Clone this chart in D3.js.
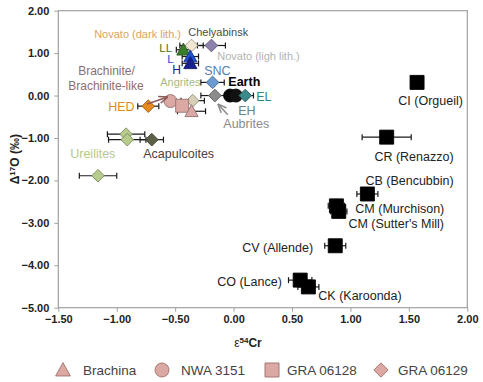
<!DOCTYPE html>
<html><head><meta charset="utf-8">
<script src="https://cdn.jsdelivr.net/npm/d3@7"></script>
<style>
body{margin:0;background:#fff}
svg{display:block}
text{font-family:"Liberation Sans",Arial,sans-serif}
</style>
</head><body>
<svg id="c" width="483" height="382"></svg>
<script>
// ---------- data ----------
const xTicks = [-1.5, -1.0, -0.5, 0.0, 0.5, 1.0, 1.5, 2.0];
const yTicks = [2, 1, 0, -1, -2, -3, -4, -5];

const pointNames = ["Ureilite a","Ureilite b","Ureilite c","Acapulcoites","HED",
  "Chelyabinsk","Novato","LL","L","H","SNC","Aubrites","Angrites",
  "NWA 3151","GRA 06128","Brachina","Earth","EH","EL",
  "CI (Orgueil)","CR (Renazzo)","CB (Bencubbin)","CM (Murchison)","CM (Sutter's Mill)",
  "CV (Allende)","CO (Lance)","CK (Karoonda)"];
const pointX = [-0.92,-0.91,-1.16,-0.70,-0.73,
  -0.19,-0.36,-0.43,-0.37,-0.37,-0.18,-0.16,-0.35,
  -0.54,-0.44,-0.36,-0.03,0.02,0.10,
  1.57,1.31,1.145,0.88,0.90,
  0.87,0.57,0.64];
const pointY = [-0.91,-1.04,-1.89,-1.04,-0.25,
  1.18,1.18,1.08,0.92,0.76,0.31,0.0,-0.12,
  -0.13,-0.24,-0.37,0.0,0.0,0.0,
  0.31,-0.98,-2.32,-2.60,-2.73,
  -3.54,-4.35,-4.51];
const pointXErr = [0.16,0.16,0.16,0.10,0.09,
  0.12,0.10,0.06,0.07,0.07,0.10,0.12,0.10,
  0,0,0.12,0,0,0.07,
  0.05,0.21,0.09,0.07,0.07,
  0.09,0.10,0.09];

const legendNames = ["Brachina","NWA 3151","GRA 06128","GRA 06129"];

// ---------- styles ----------
const pointStyle = {
  "Ureilite a":["diamond","#b7cb8d"],"Ureilite b":["diamond","#b7cb8d"],"Ureilite c":["diamond","#b7cb8d"],
  "Acapulcoites":["diamond","#5c6046"],"HED":["diamond","#e8891e"],
  "Chelyabinsk":["diamond","#8e80ad"],"Novato":["diamond","#f1e7d4"],
  "LL":["triangle","#3a7d2a"],"L":["triangle","#2050d0"],"H":["triangle","#1a2090"],
  "SNC":["diamond","#6b9bd0"],"Aubrites":["diamond","#8c8c8c"],"Angrites":["diamond","#d6d0b6"],
  "NWA 3151":["circle","#dba8a4"],"GRA 06128":["square","#dba8a4"],"Brachina":["triangle","#dba8a4"],
  "Earth":["circle","#0a0a0a"],"EH":["circle","#111111"],"EL":["diamond","#3a8a8c"],
  "CI (Orgueil)":["square","#000"],"CR (Renazzo)":["square","#000"],"CB (Bencubbin)":["square","#000"],
  "CM (Murchison)":["square","#000"],"CM (Sutter's Mill)":["square","#000"],"CV (Allende)":["square","#000"],
  "CO (Lance)":["square","#000"],"CK (Karoonda)":["square","#000"]
};
const legendShapes = ["triangle","circle","square","diamond"];

// annotations: [text, x, y (data units, left/middle anchor), color, size, weight]
const labels = [
  ["Novato (dark lith.)",-1.193,1.44,"#d9a45a",11,"normal"],
  ["Chelyabinsk",-0.388,1.488,"#4d4d3d",11,"normal"],
  ["Novato (ligh lith.)",-0.14,0.921,"#b3b3b3",11,"normal"],
  ["LL",-0.636,1.12,"#3a7d2a",11.5,"normal"],
  ["L",-0.568,0.87,"#2050d0",11.5,"normal"],
  ["H",-0.525,0.6,"#1a2090",12,"normal"],
  ["SNC",-0.251,0.59,"#4f7fb0",12.5,"normal"],
  ["Earth",-0.045,0.331,"#000",12.5,"bold"],
  ["EL",0.194,-0.024,"#3a8080",12.5,"normal"],
  ["EH",0.04,-0.354,"#6a8484",12.5,"normal"],
  ["Aubrites",-0.088,-0.661,"#8a8a8a",12.5,"normal"],
  ["Angrites",-0.628,0.307,"#a9bb7f",11,"normal"],
  ["Brachinite/",-1.33,0.59,"#8e6e6e",12,"normal"],
  ["Brachinite-like",-1.415,0.236,"#8e6e6e",12,"normal"],
  ["HED",-1.073,-0.26,"#e08a2a",12.5,"normal"],
  ["Ureilites",-1.398,-1.37,"#b5c98a",12.5,"normal"],
  ["Acapulcoites",-0.773,-1.37,"#444",12.5,"normal"],
  ["CI (Orgueil)",1.41,-0.118,"#222",12.5,"normal"],
  ["CR (Renazzo)",1.205,-1.44,"#222",12.5,"normal"],
  ["CB (Bencubbin)",1.128,-2.007,"#222",12.5,"normal"],
  ["CM (Murchison)",1.042,-2.668,"#222",12.5,"normal"],
  ["CM (Sutter's Mill)",0.983,-3.022,"#222",12.5,"normal"],
  ["CV (Allende)",0.074,-3.589,"#222",12.5,"normal"],
  ["CO (Lance)",-0.14,-4.392,"#222",12.5,"normal"],
  ["CK (Karoonda)",0.725,-4.722,"#222",12.5,"normal"]
];
// arrows: [x1,y1,x2,y2,color] in data units
const arrows = [
  [-0.74,-0.20,-0.57,-0.04,"#8e5a5a"],
  [-0.05,-0.45,-0.13,-0.21,"#8a8a8a"]
];

// ---------- chart ----------
const svg = d3.select("#c");
const L0 = 58.3, R0 = 467.3, T0 = 10.7, B0 = 307.7;
const x = d3.scaleLinear().domain([-1.5, 2]).range([L0, R0]);
const y = d3.scaleLinear().domain([-5, 2]).range([B0, T0]);

svg.append("defs").append("marker").attr("id","ah").attr("viewBox","0 0 10 10")
  .attr("refX",9).attr("refY",5).attr("markerWidth",6).attr("markerHeight",6)
  .attr("orient","auto-start-reverse").append("path").attr("d","M0,1 L10,5 L0,9").attr("fill","none")
  .attr("stroke","context-stroke").attr("stroke-width",1.6);

// axes
const xAxis = svg.append("g").attr("transform",`translate(0,${B0})`)
  .call(d3.axisBottom(x).tickValues(xTicks).tickSize(4).tickFormat(d3.format(".2f")));
const yAxis = svg.append("g").attr("transform",`translate(${L0},0)`)
  .call(d3.axisLeft(y).tickValues(yTicks).tickSize(4).tickFormat(d3.format(".2f")));
[xAxis,yAxis].forEach(g=>{
  g.select(".domain").remove();
  g.selectAll(".tick line").attr("stroke","#a0a0a0");
  g.selectAll(".tick text").attr("fill","#222").style("font-size","11px").style("font-weight","bold")
   .style("font-family","'Liberation Sans',Arial,sans-serif");
});
xAxis.selectAll(".tick text").attr("dy","0.55em").attr("y",9);
yAxis.selectAll(".tick text").attr("x",-9);

svg.append("rect").attr("x",L0).attr("y",T0).attr("width",R0-L0).attr("height",B0-T0)
  .attr("fill","none").attr("stroke","#a0a0a0").attr("stroke-width",1.2);

// axis titles
const xt = svg.append("text").attr("x",248).attr("y",347).attr("text-anchor","middle")
  .style("font-size","12px").style("font-weight","bold").attr("fill","#222");
xt.append("tspan").text("ε").style("font-weight","normal");
xt.append("tspan").text("54").attr("dy",-4).style("font-size","8px");
xt.append("tspan").text("Cr").attr("dy",4);
const yt = svg.append("text").attr("transform",`translate(19,${(T0+B0)/2}) rotate(-90)`)
  .attr("text-anchor","middle").style("font-size","12px").style("font-weight","bold").attr("fill","#222");
yt.append("tspan").text("Δ");
yt.append("tspan").text("17").attr("dy",-4).style("font-size","8px");
yt.append("tspan").text("O (‰)").attr("dy",4);

// shape paths
function shapePath(type, s){
  const h = s/2;
  if(type==="square") return `M${-h},${-h}H${h}V${h}H${-h}Z`;
  if(type==="diamond") return `M0,${-h*1.1}L${h*1.1},0L0,${h*1.1}L${-h*1.1},0Z`;
  if(type==="triangle") return `M0,${-h*1.05}L${h*1.05},${h*0.85}L${-h*1.05},${h*0.85}Z`;
  return d3.arc()({innerRadius:0,outerRadius:h,startAngle:0,endAngle:2*Math.PI});
}
function sizeOf(name, type){
  if(pointStyle[name][1]==="#000") return 14;
  if(type==="circle") return 13;
  if(type==="triangle") return 12.5;
  if(type==="square") return 13;
  return 11.5;
}
function strokeOf(col){
  if(col==="#000") return "#000";
  const c = d3.color(col).darker(1.1);
  return c.formatHex();
}

// error bars
const pts = pointNames.map((n,i)=>({n, x:pointX[i], y:pointY[i], e:pointXErr[i]}));
const eb = svg.append("g").attr("stroke","#1a1a1a").attr("stroke-width",1.2);
pts.filter(p=>p.e>0).forEach(p=>{
  const x1 = x(p.x-p.e), x2 = x(p.x+p.e), yy = y(p.y);
  eb.append("line").attr("x1",x1).attr("x2",x2).attr("y1",yy).attr("y2",yy);
  eb.append("line").attr("x1",x1).attr("x2",x1).attr("y1",yy-3).attr("y2",yy+3);
  eb.append("line").attr("x1",x2).attr("x2",x2).attr("y1",yy-3).attr("y2",yy+3);
});

// markers
svg.append("g").selectAll("path").data(pts).join("path")
  .attr("transform",d=>`translate(${x(d.x)},${y(d.y)})`)
  .attr("d",d=>shapePath(pointStyle[d.n][0], sizeOf(d.n, pointStyle[d.n][0])))
  .attr("fill",d=>pointStyle[d.n][1])
  .attr("stroke",d=>strokeOf(pointStyle[d.n][1]))
  .attr("stroke-width",0.9);

// labels
svg.append("g").selectAll("text").data(labels).join("text")
  .attr("x",d=>x(d[1])).attr("y",d=>y(d[2])).attr("dy","0.35em")
  .attr("fill",d=>d[3]).style("font-size",d=>d[4]+"px").style("font-weight",d=>d[5])
  .text(d=>d[0]);

// arrows
svg.append("g").selectAll("line").data(arrows).join("line")
  .attr("x1",d=>x(d[0])).attr("y1",d=>y(d[1])).attr("x2",d=>x(d[2])).attr("y2",d=>y(d[3]))
  .attr("stroke",d=>d[4]).attr("stroke-width",1.5).attr("marker-end","url(#ah)");

// legend
const legX = [63,162,272,381], legTextX = [83,181,287,398];
const lg = svg.append("g");
legendNames.forEach((n,i)=>{
  lg.append("path").attr("transform",`translate(${legX[i]},370)`)
    .attr("d",shapePath(legendShapes[i], legendShapes[i]==="diamond"?13:14))
    .attr("fill","#dba8a4").attr("stroke","#a87874").attr("stroke-width",1);
  lg.append("text").attr("x",legTextX[i]).attr("y",370).attr("dy","0.35em")
    .style("font-size","13.5px").attr("fill","#444").text(n);
});
</script>
</body></html>
